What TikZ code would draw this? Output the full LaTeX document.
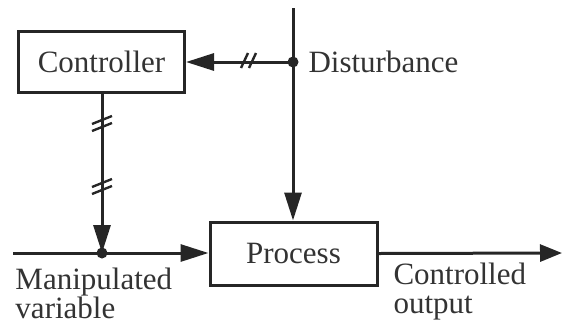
\documentclass[tikz,border=0pt]{standalone}
\usepackage{fontspec}
\setmainfont{Liberation Serif}
\usetikzlibrary{arrows.meta,calc}
\begin{document}
\begin{tikzpicture}[x=1pt,y=-1pt,
  line width=3pt, draw=black!85, text=black!80,
  blk/.style={draw, rectangle, minimum width=#1, inner sep=0pt, font=\fontsize{31}{31}\selectfont},
  lbl/.style={font=\fontsize{31}{31}\selectfont, inner sep=0pt, align=left},
  arr/.style={-{Triangle[length=28pt,width=17pt]}},
  junc/.style={circle, fill=black!85, inner sep=0pt, minimum size=11pt},
  hash/.style={line width=2.4pt}]
\useasboundingbox (0,0) rectangle (562,325);
\node[blk=166pt, minimum height=61pt] (ctrl) at (101.5,61.5) {Controller};
\node[blk=167pt, minimum height=63pt] (proc) at (293.5,253.5) {Process};
\coordinate (dtop) at (293,8);
\node[junc] (dj) at (293,62) {};
\node[junc] (mj) at (102,253) {};
\coordinate (min) at (13,253);
\coordinate (out) at (562,253);
% disturbance
\draw (dtop) -- (dj.center);
\draw[arr] (dj.center) -- (proc.north -| dj);
\draw[arr] (dj.center) -- (ctrl.east |- dj);
% controller output
\draw[arr] (ctrl.south -| mj) -- (mj.center);
% manipulated variable
\draw (min) -- (mj.center);
\draw[arr] (mj.center) -- (proc.west |- mj);
\draw[-{Triangle[length=22pt,width=17pt]}] (proc.east) -- (out);
% hash marks
\coordinate (h1) at (249,61);
\draw[hash] ($(h1)+(-8,7)$) -- ($(h1)+(-1,-8)$);
\draw[hash] ($(h1)+(0,7)$) -- ($(h1)+(7,-8)$);
\coordinate (h2) at (102,123);
\draw[hash] ($(h2)+(-10,1)$) -- ($(h2)+(10,-7)$);
\draw[hash] ($(h2)+(-10,8)$) -- ($(h2)+(10,0)$);
\coordinate (h3) at (102,186);
\draw[hash] ($(h3)+(-10,1)$) -- ($(h3)+(10,-7)$);
\draw[hash] ($(h3)+(-10,8)$) -- ($(h3)+(10,0)$);
% labels
\node[lbl, anchor=west] (dl) at (307,62) {Disturbance};
\node[lbl, anchor=north west] (ml) at (14,266) {Manipulated\\[-2pt]variable};
\node[lbl, anchor=north west] (cl) at (392,261) {Controlled\\[-2pt]output};
\end{tikzpicture}
\end{document}
